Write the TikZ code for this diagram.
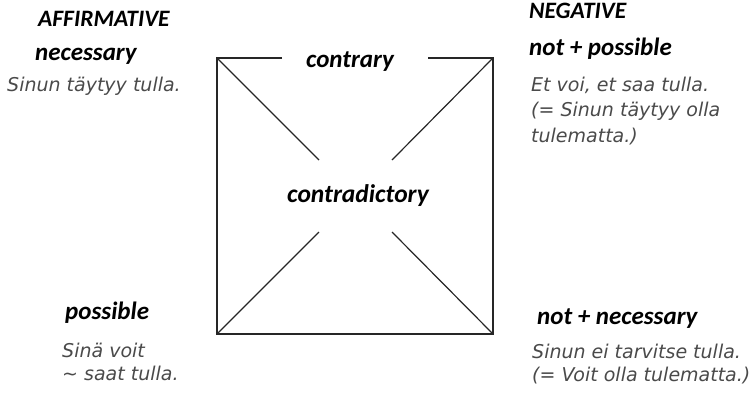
\documentclass[tikz,border=0pt]{standalone}
\usepackage{fontspec}
\newfontfamily\headfont{Carlito}
\newfontfamily\samplefont{DejaVu Sans}
\usetikzlibrary{positioning}
\definecolor{sampletext}{HTML}{4A4A4A}
\tikzstyle{line}=[draw, line width=1.2pt, black!85]
\tikzstyle{head}=[font=\headfont\bfseries\itshape\fontsize{25}{27}\selectfont, inner sep=0pt, anchor=base west]
\tikzstyle{caps}=[head, font=\headfont\bfseries\itshape\fontsize{23.5}{26}\selectfont]
\tikzstyle{sample}=[font=\samplefont\itshape\fontsize{19}{25.5}\selectfont, text=sampletext, inner sep=0pt, anchor=base west, align=left]

\begin{document}
\begin{tikzpicture}[x=1pt, y=-1pt]
    \useasboundingbox (0,0) rectangle (753,397);
    % corners of the square
    \coordinate (tl) at (217,58);
    \coordinate (tr) at (493,58);
    \coordinate (bl) at (217,334);
    \coordinate (br) at (493,334);
    % free ends of the diagonals
    \coordinate (dtl) at (319,160);
    \coordinate (dtr) at (392,160);
    \coordinate (dbl) at (319,232);
    \coordinate (dbr) at (392,232);
    \coordinate (gl) at (282,58);
    \coordinate (gr) at (428,58);
    \node[head, anchor=base] (contrary) at (350,67) {contrary};
    \node[head, anchor=base, font=\headfont\bfseries\itshape\fontsize{25.5}{27}\selectfont] (contra) at (358,202) {contradictory};
    % corner labels (multi-line ones sit on their last baseline)
    \node[caps] (aff) at (38,26) {AFFIRMATIVE};
    \node[head] (nec) at (35,60) {necessary};
    \node[sample] (necex) at (7,91) {Sinun täytyy tulla.};
    \node[caps] (neg) at (529,18) {NEGATIVE};
    \node[head] (notpos) at (529,55) {not + possible};
    \node[sample] (notposex) at (531,142) {Et voi, et saa tulla.\\(= Sinun täytyy olla\\tulematta.)};
    \node[head] (pos) at (65,319) {possible};
    \node[sample, font=\samplefont\itshape\fontsize{19}{22.5}\selectfont] (posex) at (62,380) {Sinä voit\\\textasciitilde{} saat tulla.};
    \node[head] (notnec) at (537,324) {not + necessary};
    \node[sample, font=\samplefont\itshape\fontsize{19}{22.5}\selectfont] (notnecex) at (532,381) {Sinun ei tarvitse tulla.\\(= Voit olla tulematta.)};
    % square
    \path[line] (gl) -- (tl) -- (bl) -- (br) -- (tr) -- (gr);
    \path[line] (tl) -- (dtl);
    \path[line] (tr) -- (dtr);
    \path[line] (bl) -- (dbl);
    \path[line] (br) -- (dbr);
\end{tikzpicture}
\end{document}
